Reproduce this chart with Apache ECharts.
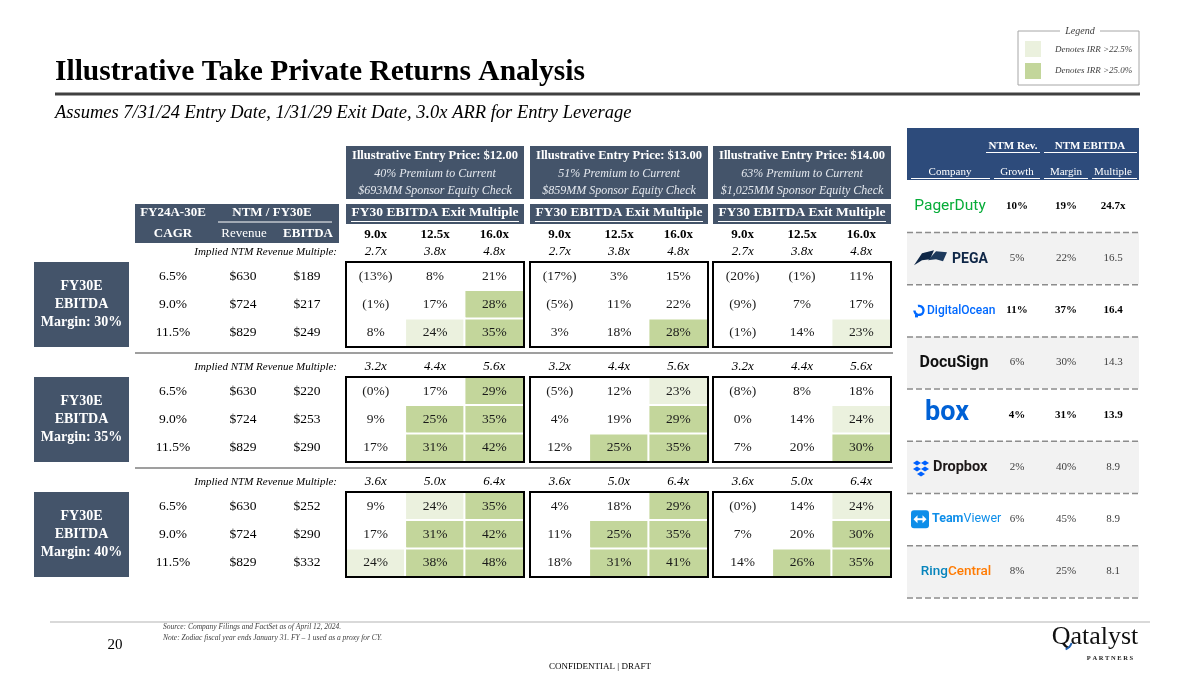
<!DOCTYPE html>
<html><head><meta charset="utf-8">
<script src="https://cdn.jsdelivr.net/npm/echarts@6/dist/echarts.min.js"></script>
<style>html,body{margin:0;padding:0;background:#fff}#c{width:1200px;height:675px}</style>
</head><body><div id="c"></div>
<script>
// ---------- DATA ----------
const exitMultiples = ['9.0x', '12.5x', '16.0x'];
const entryPrices = ['$12.00', '$13.00', '$14.00'];
const premiums = ['40%', '51%', '63%'];
const equityChecks = ['$693MM', '$859MM', '$1,025MM'];
const margins = ['30%', '35%', '40%'];
const cagr = ['6.5%', '9.0%', '11.5%'];
const ntmRevenue = ['$630', '$724', '$829'];
const fy30Ebitda = [['$189', '$217', '$249'], ['$220', '$253', '$290'], ['$252', '$290', '$332']];
const impliedMultiples = [['2.7x', '3.8x', '4.8x'], ['3.2x', '4.4x', '5.6x'], ['3.6x', '5.0x', '6.4x']];
// IRR in %, rows = CAGR, cols = exit multiple
const irrM30P12 = [[-13, 8, 21], [-1, 17, 28], [8, 24, 35]];
const irrM30P13 = [[-17, 3, 15], [-5, 11, 22], [3, 18, 28]];
const irrM30P14 = [[-20, -1, 11], [-9, 7, 17], [-1, 14, 23]];
const irrM35P12 = [[-0, 17, 29], [9, 25, 35], [17, 31, 42]];
const irrM35P13 = [[-5, 12, 23], [4, 19, 29], [12, 25, 35]];
const irrM35P14 = [[-8, 8, 18], [0, 14, 24], [7, 20, 30]];
const irrM40P12 = [[9, 24, 35], [17, 31, 42], [24, 38, 48]];
const irrM40P13 = [[4, 18, 29], [11, 25, 35], [18, 31, 41]];
const irrM40P14 = [[-0, 14, 24], [7, 20, 30], [14, 26, 35]];
const irrBlocks = [[irrM30P12, irrM30P13, irrM30P14], [irrM35P12, irrM35P13, irrM35P14], [irrM40P12, irrM40P13, irrM40P14]];

const compNames = ['PagerDuty', 'PEGA', 'DigitalOcean', 'DocuSign', 'box', 'Dropbox', 'TeamViewer', 'RingCentral'];
const compGrowth = ['10%', '5%', '11%', '6%', '4%', '2%', '6%', '8%'];
const compMargin = ['19%', '22%', '37%', '30%', '31%', '40%', '45%', '25%'];
const compMultiple = ['24.7x', '16.5', '16.4', '14.3', '13.9', '8.9', '8.9', '8.1'];
const compBold = [true, false, true, false, true, false, false, false];

// ---------- LAYOUT / STYLE ----------
const SERIF = '"Liberation Serif", "Times New Roman", serif';
const SANS = 'Roboto, "Liberation Sans", sans-serif';
const SLATE = '#44546A';
const NAVY = '#2D4B7B';
const LIGHT = '#EBF1DE';
const GREEN = '#C3D69B';
const BX = [346, 530, 713];   // price block lefts
const BW = 178;
const BT = [262, 377, 492];   // margin block tops
const BH = 85;

const g = [];
function txt(text, x, y, font, fill, align, extra) {
  const e = { type: 'text', x: x, y: y, z: 50, silent: true,
    style: Object.assign({ text: text, font: font, fill: fill || '#000', align: align || 'center', verticalAlign: 'middle' }, extra || {}) };
  g.push(e); return e;
}
function rect(x, y, w, h, fill, stroke, lw, z) {
  g.push({ type: 'rect', z: z || 10, silent: true, shape: { x: x, y: y, width: w, height: h },
    style: { fill: fill || 'none', stroke: stroke || 'none', lineWidth: lw || 0 } });
}
function line(x1, y1, x2, y2, stroke, lw, dash, z) {
  g.push({ type: 'line', z: z || 20, silent: true, shape: { x1: x1, y1: y1, x2: x2, y2: y2 },
    style: { stroke: stroke, lineWidth: lw, lineDash: dash || null } });
}
function poly(points, fill, z) {
  g.push({ type: 'polygon', z: z || 30, silent: true, shape: { points: points }, style: { fill: fill } });
}

// Title + rule
txt('Illustrative Take Private Returns Analysis', 55, 72, 'bold 29.5px ' + SERIF, '#000', 'left');
line(55, 94, 1140, 94, '#404040', 3);
txt('Assumes 7/31/24 Entry Date, 1/31/29 Exit Date, 3.0x ARR for Entry Leverage', 55, 113, 'italic 18.5px ' + SERIF, '#000', 'left');

// Legend
rect(1018, 31, 121, 54, 'none', '#A6A6A6', 1);
rect(1060, 26, 40, 10, '#fff', 'none', 0, 15);
txt('Legend', 1080, 31, 'italic 10px ' + SERIF, '#404040');
rect(1025, 41, 16, 16, LIGHT);
rect(1025, 63, 16, 16, GREEN);
txt('Denotes IRR >22.5%', 1055, 50, 'italic 9px ' + SERIF, '#404040', 'left');
txt('Denotes IRR >25.0%', 1055, 71, 'italic 9px ' + SERIF, '#404040', 'left');

// Price headers
for (let p = 0; p < 3; p++) {
  const cx = BX[p] + BW / 2;
  rect(BX[p], 146, BW, 53, SLATE);
  txt('Illustrative Entry Price: ' + entryPrices[p], cx, 156, 'bold 12.5px ' + SERIF, '#fff');
  txt(premiums[p] + ' Premium to Current', cx, 174, 'italic 12px ' + SERIF, '#E4E8EE');
  txt(equityChecks[p] + ' Sponsor Equity Check', cx, 191, 'italic 12px ' + SERIF, '#E4E8EE');
  rect(BX[p], 204, BW, 20, SLATE);
  txt('FY30 EBITDA Exit Multiple', cx, 213, 'bold 13.5px ' + SERIF, '#fff');
  line(BX[p] + 5, 221.5, BX[p] + BW - 5, 221.5, '#fff', 1);
  for (let c = 0; c < 3; c++) {
    txt(exitMultiples[c], BX[p] + BW / 6 + c * BW / 3, 235, 'bold 13px ' + SERIF, '#000');
  }
}
// Left header
rect(135, 204, 204, 39, SLATE);
txt('FY24A-30E', 173, 213, 'bold 13px ' + SERIF, '#fff');
txt('CAGR', 173, 234, 'bold 13px ' + SERIF, '#fff');
txt('NTM / FY30E', 272, 213, 'bold 13px ' + SERIF, '#fff');
line(218, 222, 332, 222, '#fff', 1);
txt('Revenue', 244, 234, '13px ' + SERIF, '#fff');
txt('EBITDA', 308, 234, 'bold 13px ' + SERIF, '#fff');

// Margin blocks
const colX = [173, 243, 307];
for (let m = 0; m < 3; m++) {
  const top = BT[m];
  if (m > 0) line(135, top - 24, 893, top - 24, '#7F7F7F', 1.5);
  txt('Implied NTM Revenue Multiple:', 337, top - 10, 'italic 11px ' + SERIF, '#000', 'right');
  for (let p = 0; p < 3; p++) {
    for (let c = 0; c < 3; c++) {
      txt(impliedMultiples[m][c], BX[p] + BW / 6 + c * BW / 3, top - 10, 'italic 13px ' + SERIF, '#000');
    }
    rect(BX[p], top, BW, BH, 'none', '#000', 2, 100);
  }
  rect(34, top, 95, BH, SLATE);
  const cy = top + BH / 2;
  txt('FY30E', 81.5, cy - 18, 'bold 14px ' + SERIF, '#fff');
  txt('EBITDA', 81.5, cy, 'bold 14px ' + SERIF, '#fff');
  txt('Margin: ' + margins[m], 81.5, cy + 18, 'bold 14px ' + SERIF, '#fff');
  for (let r = 0; r < 3; r++) {
    const ry = top + BH / 6 + r * BH / 3;
    txt(cagr[r], colX[0], ry, '13.5px ' + SERIF, '#000');
    txt(ntmRevenue[r], colX[1], ry, '13.5px ' + SERIF, '#000');
    txt(fy30Ebitda[m][r], colX[2], ry, '13.5px ' + SERIF, '#000');
  }
}

// Comps table
const CL = 907, CW = 232;
rect(CL, 128, CW, 52, NAVY);
txt('NTM Rev.', 1013, 146, 'bold 11px ' + SERIF, '#fff');
txt('NTM EBITDA', 1090, 146, 'bold 11px ' + SERIF, '#fff');
line(986, 152.5, 1040, 152.5, '#fff', 1);
line(1044, 152.5, 1137, 152.5, '#fff', 1);
const hdrs = [['Company', 950, 911, 990], ['Growth', 1017, 994, 1040], ['Margin', 1066, 1044, 1088], ['Multiple', 1113, 1092, 1137]];
hdrs.forEach(h => { txt(h[0], h[1], 172, '11px ' + SERIF, '#fff'); line(h[2], 178.5, h[3], 178.5, '#fff', 1); });
const RY0 = 206, RP = 52.2;
for (let i = 0; i < compNames.length; i++) {
  const cy = RY0 + i * RP;
  if (i % 2 === 1) rect(CL, cy - 26, CW, 52, '#F2F2F2', 'none', 0, 5);
  line(CL, cy + 26.5, CL + CW, cy + 26.5, '#8C8C8C', 1.5, [6, 3]);
  const f = (compBold[i] ? 'bold ' : '') + '11px ' + SERIF;
  const col = compBold[i] ? '#000' : '#404040';
  txt(compGrowth[i], 1017, cy, f, col);
  txt(compMargin[i], 1066, cy, f, col);
  txt(compMultiple[i], 1113, cy, f, col);
}
// logos (as text + simple shapes)
const ly = i => RY0 + i * RP;
txt(compNames[0], 950, ly(0), '15.5px ' + SANS, '#06AC38');
poly([[914, ly(1) + 7], [922, ly(1) - 5], [934, ly(1) - 8], [930, ly(1) + 1], [922, ly(1) + 2]], '#0F2747');
poly([[928, ly(1) + 2], [936, ly(1) - 7], [947, ly(1) - 6], [943, ly(1) + 3], [936, ly(1) + 1]], '#1E3A5C');
txt(compNames[1], 952, ly(1) + 1, 'bold 14px ' + SANS, '#0F2747', 'left');
g.push({ type: 'arc', z: 30, silent: true, shape: { cx: 919, cy: ly(2), r: 4.5, startAngle: -1.8, endAngle: 3.14 }, style: { stroke: '#0069FF', lineWidth: 2.4, fill: 'none' } });
rect(915, ly(2) + 4, 3, 3, '#0069FF', 'none', 0, 30);
txt(compNames[2], 927, ly(2) + 1, '500 12px ' + SANS, '#0069FF', 'left');
txt(compNames[3], 954, ly(3), 'bold 16px ' + SANS, '#111');
txt(compNames[4], 947, ly(4) - 2, 'bold 27px ' + SANS, '#0061D5');
const dx = 921, dy = ly(5);
[[-4, -4], [4, -4], [-4, 2], [4, 2], [0, 7]].forEach(d => {
  const x = dx + d[0], y = dy + d[1];
  poly([[x - 4, y], [x, y - 2.6], [x + 4, y], [x, y + 2.6]], '#0061FE');
});
txt(compNames[5], 933, ly(5), 'bold 14.5px ' + SANS, '#1E1919', 'left');
g.push({ type: 'rect', z: 30, silent: true, shape: { x: 911, y: ly(6) - 9, width: 18, height: 18, r: 3 }, style: { fill: '#0E8EE9' } });
poly([[913.5, ly(6)], [917.5, ly(6) - 4], [917.5, ly(6) + 4]], '#fff');
poly([[926.5, ly(6)], [922.5, ly(6) - 4], [922.5, ly(6) + 4]], '#fff');
rect(917, ly(6) - 1, 6, 2, '#fff', 'none', 0, 31);
txt('{a|Team}{b|Viewer}', 932, ly(6), '12px ' + SANS, '#0E8EE9', 'left', {
  rich: { a: { fontFamily: 'Roboto', fontWeight: 'bold', fontSize: 12.5, fill: '#0E8EE9' }, b: { fontFamily: 'Roboto', fontSize: 12.5, fill: '#0E8EE9' } } });
txt('{a|Ring}{b|Central}', 956, ly(7), '13px ' + SANS, '#0684BC', 'center', {
  rich: { a: { fontFamily: 'Roboto', fontWeight: 500, fontSize: 13.5, fill: '#0684BC' }, b: { fontFamily: 'Roboto', fontWeight: 500, fontSize: 13.5, fill: '#FF7A00' } } });

// Footer
line(50, 622, 1150, 622, '#D9D9D9', 2);
txt('20', 115, 645, '15px ' + SERIF, '#000');
txt('Source: Company Filings and FactSet as of April 12, 2024.', 163, 627, 'italic 7.5px ' + SERIF, '#404040', 'left');
txt('Note: Zodiac fiscal year ends January 31. FY \u2013 1 used as a proxy for CY.', 163, 638, 'italic 7.5px ' + SERIF, '#404040', 'left');
txt('CONFIDENTIAL | DRAFT', 600, 667, '9px ' + SERIF, '#000');
txt('Qatalyst', 1095, 637, '26px ' + SERIF, '#111');
g.push({ type: 'arc', z: 55, silent: true, shape: { cx: 1062, cy: 640, r: 10, startAngle: 0.3, endAngle: 1.2 }, style: { stroke: '#1F5FAF', lineWidth: 2, fill: 'none' } });
txt('P A R T N E R S', 1110, 658, 'bold 6.5px ' + SERIF, '#222');

// ---------- HEATMAP GRIDS ----------
const grids = [], xAxes = [], yAxes = [], series = [];
function fmtIrr(v) {
  if (v < 0 || Object.is(v, -0)) return '(' + Math.abs(v) + '%)';
  return v + '%';
}
for (let m = 0; m < 3; m++) {
  for (let p = 0; p < 3; p++) {
    const gi = grids.length;
    grids.push({ left: BX[p], top: BT[m], width: BW, height: BH, show: false });
    xAxes.push({ type: 'category', gridIndex: gi, data: exitMultiples, show: false });
    yAxes.push({ type: 'category', gridIndex: gi, data: cagr, inverse: true, show: false });
    const data = [];
    irrBlocks[m][p].forEach((row, r) => row.forEach((v, c) => data.push([c, r, v])));
    series.push({
      type: 'heatmap', xAxisIndex: gi, yAxisIndex: gi, data: data, silent: true,
      itemStyle: { borderColor: '#fff', borderWidth: 2 },
      emphasis: { disabled: true },
      label: { show: true, fontFamily: SERIF, fontSize: 13.5, color: '#1A1A1A',
        formatter: prm => fmtIrr(prm.value[2]) }
    });
  }
}

const chart = echarts.init(document.getElementById('c'), null, { renderer: 'canvas' });
chart.setOption({
  animation: false,
  backgroundColor: '#fff',
  grid: grids, xAxis: xAxes, yAxis: yAxes,
  visualMap: { type: 'piecewise', show: false, dimension: 2, seriesIndex: series.map((s, i) => i),
    pieces: [{ lt: 22.5, color: '#FFFFFF' }, { gte: 22.5, lt: 24.5, color: LIGHT }, { gte: 24.5, color: GREEN }] },
  series: series,
  graphic: g
});
</script>
</body></html>
